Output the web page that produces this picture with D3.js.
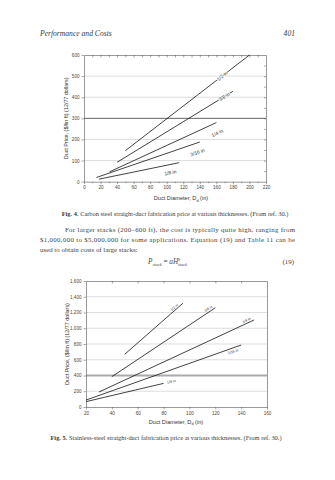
<!DOCTYPE html>
<html>
<head>
<meta charset="utf-8">
<script src="https://cdn.jsdelivr.net/npm/d3@7"></script>
<style>
  html, body { margin: 0; padding: 0; background: #fff; }
  svg { display: block; }
</style>
</head>
<body>
<script>
// ---------- data ----------
const thicknessLabels = ["1/2 in", "3/8 in", "1/4 in", "3/16 in", "1/8 in"];

// Fig. 4 – carbon steel: straight segments (start / end) per thickness
const fig4X0 = [50, 40, 31, 15, 18];
const fig4Y0 = [147, 92, 47, 20, 12];
const fig4X1 = [200, 180, 160, 140, 115];
const fig4Y1 = [600, 428, 280, 188, 90];
const fig4XTicks = [0, 20, 40, 60, 80, 100, 120, 140, 160, 180, 200, 220];
const fig4YTicks = [0, 100, 200, 300, 400, 500, 600];

// Fig. 5 – stainless steel
const fig5X0 = [50, 40, 30, 20, 20];
const fig5Y0 = [670, 385, 190, 88, 68];
const fig5X1 = [95, 120, 150, 140, 80];
const fig5Y1 = [1318, 1260, 1105, 787, 300];
const fig5XTicks = [20, 40, 60, 80, 100, 120, 140, 160];
const fig5YTicks = [0, 200, 400, 600, 800, 1000, 1200, 1400, 1600];

// ---------- layout ----------
const W = 335, H = 480;
const SERIF = "'Liberation Serif','Times New Roman',serif";
const SANS = "'Liberation Sans',Arial,sans-serif";
const TXT = "#3a3a3a";

const svg = d3.select("body").append("svg").attr("width", W).attr("height", H);
svg.append("rect").attr("width", W).attr("height", H).attr("fill", "#fff");

// header
svg.append("text").attr("x", 40).attr("y", 36).attr("font-family", SERIF)
  .attr("font-style", "italic").attr("font-size", 7.6).attr("fill", TXT)
  .text("Performance and Costs");
svg.append("text").attr("x", 295).attr("y", 36).attr("text-anchor", "end").attr("font-family", SERIF)
  .attr("font-style", "italic").attr("font-size", 7.6).attr("fill", TXT).text("401");

function drawChart(cfg) {
  const g = svg.append("g");
  const x = d3.scaleLinear().domain(cfg.xDomain).range([cfg.left, cfg.right]);
  const y = d3.scaleLinear().domain(cfg.yDomain).range([cfg.bottom, cfg.top]);

  // gridlines
  cfg.yTicks.filter(v => v > cfg.yDomain[0] && v < cfg.yDomain[1]).forEach(v => {
    const strong = v === cfg.strongGrid;
    g.append("line").attr("x1", cfg.left).attr("x2", cfg.right)
      .attr("y1", y(v)).attr("y2", y(v))
      .attr("stroke", strong ? cfg.strongColor : "#c8c8c8")
      .attr("stroke-width", strong ? cfg.strongWidth : 0.6);
  });

  // axes
  const tickFont = sel => sel.selectAll("text").attr("font-family", SANS)
      .attr("font-size", 4.6).attr("fill", "#444");
  const axStyle = sel => { sel.select(".domain").attr("stroke", "#555").attr("stroke-width", 0.6);
                           sel.selectAll(".tick line").attr("stroke", "#555").attr("stroke-width", 0.5); };

  const bottom = g.append("g").attr("transform", `translate(0,${cfg.bottom})`)
    .call(d3.axisBottom(x).tickValues(cfg.xTicks).tickSize(2.5).tickPadding(2).tickSizeOuter(0));
  tickFont(bottom); axStyle(bottom);
  const left = g.append("g").attr("transform", `translate(${cfg.left},0)`)
    .call(d3.axisLeft(y).tickValues(cfg.yTicks).tickSize(2.5).tickPadding(2).tickSizeOuter(0));
  tickFont(left); axStyle(left);

  // top (inward ticks)
  const top = g.append("g").attr("transform", `translate(0,${cfg.top})`)
    .call(d3.axisTop(x).tickValues(cfg.topTicks).tickSize(-2.5).tickFormat("").tickSizeOuter(0));
  axStyle(top);
  const right = g.append("g").attr("transform", `translate(${cfg.right},0)`)
    .call(d3.axisRight(y).tickValues(cfg.rightTicks).tickSize(-2).tickFormat("").tickSizeOuter(0));
  axStyle(right);

  // minor bottom ticks
  if (cfg.minorX) {
    g.append("g").attr("transform", `translate(0,${cfg.bottom})`)
      .call(d3.axisBottom(x).tickValues(cfg.minorX).tickSize(1.5).tickFormat("").tickSizeOuter(0))
      .call(axStyle).select(".domain").remove();
  }

  // series
  cfg.x0.forEach((_, i) => {
    g.append("line")
      .attr("x1", x(cfg.x0[i])).attr("y1", y(cfg.y0[i]))
      .attr("x2", x(cfg.x1[i])).attr("y2", y(cfg.y1[i]))
      .attr("stroke", "#111").attr("stroke-width", 0.8);
  });
  cfg.x0.forEach((_, i) => {
    const t = cfg.labelT[i];
    const px = x(cfg.x0[i] + (cfg.x1[i] - cfg.x0[i]) * t);
    const py = y(cfg.y0[i] + (cfg.y1[i] - cfg.y0[i]) * t);
    const ang = Math.atan2(y(cfg.y1[i]) - y(cfg.y0[i]), x(cfg.x1[i]) - x(cfg.x0[i])) * 180 / Math.PI;
    g.append("text").attr("transform", `translate(${px},${py}) rotate(${ang})`)
      .attr("x", 0).attr("y", cfg.labelOff[i]).attr("dy", "0.35em")
      .attr("text-anchor", "middle").attr("font-family", SANS)
      .attr("font-size", cfg.labelSize).attr("fill", "#333")
      .attr("stroke", cfg.halo ? "#fff" : "none").attr("stroke-width", 1.4)
      .attr("paint-order", "stroke")
      .text(thicknessLabels[i]);
  });

  // axis titles
  const xt = g.append("text").attr("x", cfg.xTitleX).attr("y", cfg.bottom + cfg.xTitleGap)
    .attr("text-anchor", "middle").attr("font-family", SANS).attr("font-size", 5.6).attr("fill", "#333");
  xt.append("tspan").text("Duct Diameter, D");
  xt.append("tspan").attr("dy", 1.4).attr("font-size", 3.8).text("d");
  xt.append("tspan").attr("dy", -1.4).text(" (in)");

  g.append("text").attr("transform", `translate(${cfg.left - cfg.yTitleGap},${(cfg.top + cfg.bottom) / 2}) rotate(-90)`)
    .attr("text-anchor", "middle").attr("font-family", SANS).attr("font-size", 5.4).attr("fill", "#333")
    .text("Duct Price, ($/lin ft) (12/77 dollars)");
}

drawChart({
  xDomain: [0, 220], yDomain: [0, 600],
  left: 84, right: 266, top: 55, bottom: 181.7,
  xTicks: fig4XTicks, yTicks: fig4YTicks,
  topTicks: d3.range(10, 220, 10), rightTicks: d3.range(50, 600, 50),
  minorX: d3.range(10, 220, 20),
  strongGrid: 300, strongColor: "#555", strongWidth: 0.9,
  x0: fig4X0, y0: fig4Y0, x1: fig4X1, y1: fig4Y1,
  labelT: [0.78, 0.925, 0.97, 0.95, 0.87], labelOff: [0, 0, 10, 9, 8],
  labelSize: 5, halo: true,
  xTitleX: 181, xTitleGap: 18.5, yTitleGap: 16
});

drawChart({
  xDomain: [20, 160], yDomain: [0, 1600],
  left: 86, right: 267, top: 281, bottom: 407,
  xTicks: fig5XTicks, yTicks: fig5YTicks,
  topTicks: d3.range(40, 160, 20), rightTicks: [],
  minorX: null,
  strongGrid: 400, strongColor: "#aaa", strongWidth: 2,
  x0: fig5X0, y0: fig5Y0, x1: fig5X1, y1: fig5Y1,
  labelT: [0.88, 0.95, 0.96, 0.94, 1.1], labelOff: [-2.5, -3, -3, 3.5, 0],
  labelSize: 3.6, halo: false,
  xTitleX: 176, xTitleGap: 17, yTitleGap: 17.5
});

// Fig. 4 caption
const cap4 = svg.append("text").attr("x", 175).attr("y", 215.5).attr("text-anchor", "middle")
  .attr("font-family", SERIF).attr("font-size", 6.4).attr("fill", TXT);
cap4.append("tspan").attr("font-weight", "bold").text("Fig. 4.");
cap4.append("tspan").text(" Carbon steel straight-duct fabrication price at various thicknesses. (From ref. 30.)");

// paragraph
const para = [
  { x: 65, y: 232, w: 230, t: "For larger stacks (200–600 ft), the cost is typically quite high, ranging from" },
  { x: 40, y: 242, w: 255, t: "$1,000,000 to $5,000,000 for some applications. Equation (19) and Table 11 can be" },
  { x: 40, y: 252, w: null, t: "used to obtain costs of large stacks:" }
];
para.forEach(p => {
  const t = svg.append("text").attr("x", p.x).attr("y", p.y).attr("font-family", SERIF)
    .attr("font-size", 6.9).attr("fill", "#444").text(p.t);
  if (p.w) t.attr("textLength", p.w).attr("lengthAdjust", "spacing");
});

// equation (19)
const eq = svg.append("text").attr("x", 148).attr("y", 264).attr("font-family", SERIF)
  .attr("font-size", 7.2).attr("fill", "#444").attr("font-style", "italic");
eq.append("tspan").text("P");
eq.append("tspan").attr("dy", 1.6).attr("font-size", 4.5).text("stack");
eq.append("tspan").attr("dy", -1.6).attr("font-style", "normal").text(" = ");
eq.append("tspan").text("aH");
eq.append("tspan").attr("dy", -3).attr("font-size", 4.5).text("b");
eq.append("tspan").attr("dx", -2.5).attr("dy", 4.6).attr("font-size", 4.5).text("stack");
svg.append("text").attr("x", 294).attr("y", 264).attr("text-anchor", "end").attr("font-family", SERIF)
  .attr("font-size", 6.9).attr("fill", "#444").text("(19)");

// Fig. 5 caption
const cap5 = svg.append("text").attr("x", 166).attr("y", 439.5).attr("text-anchor", "middle")
  .attr("font-family", SERIF).attr("font-size", 6.4).attr("fill", TXT);
cap5.append("tspan").attr("font-weight", "bold").text("Fig. 5.");
cap5.append("tspan").text(" Stainless-steel straight-duct fabrication price at various thicknesses. (From ref. 30.)");
</script>
</body>
</html>
